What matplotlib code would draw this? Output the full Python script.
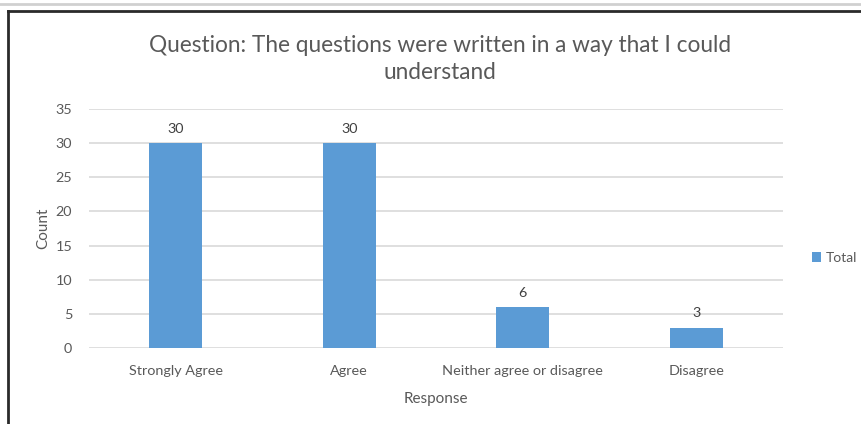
import matplotlib.pyplot as plt
from matplotlib.lines import Line2D

categories = ["Strongly Agree", "Agree", "Neither agree or disagree", "Disagree"]
totals = [30, 30, 6, 3]
y_ticks = [0, 5, 10, 15, 20, 25, 30, 35]

W, H = 862, 424
fig = plt.figure(figsize=(W / 100, H / 100), dpi=100)
fig.patch.set_facecolor("white")

font = ["Lato", "DejaVu Sans"]
text_color = "#595959"
bar_color = "#5B9BD5"
grid_color = "#D9D9D9"

# plot area in pixel coordinates
left, right, top, bottom = 89, 783, 109, 348
ax = fig.add_axes([left / W, 1 - bottom / H, (right - left) / W, (bottom - top) / H])

x = range(len(categories))
bars = ax.bar(x, totals, width=0.306, color=bar_color, zorder=3, label="Total")
ax.set_xlim(-0.5, len(categories) - 0.5)
ax.set_ylim(0, 35)
ax.set_yticks(y_ticks)
ax.yaxis.grid(True, color=grid_color, linewidth=1.2, zorder=0)
ax.tick_params(axis="both", length=0, labelsize=10.4, colors=text_color)
ax.tick_params(axis="y", pad=12)
ax.tick_params(axis="x", pad=12)
ax.set_xticks(list(x))
ax.set_xticklabels(categories, fontfamily=font)
for lbl in ax.get_yticklabels():
    lbl.set_fontfamily(font)
for s in ax.spines.values():
    s.set_visible(False)

for b, v in zip(bars, totals):
    ax.text(b.get_x() + b.get_width() / 2, v + 1.2, str(v), ha="center", va="bottom",
            fontsize=10.4, color="#404040", fontfamily=font)

ax.set_ylabel("Count", fontsize=11, color=text_color, fontfamily=font, labelpad=4)
ax.set_xlabel("Response", fontsize=11, color=text_color, fontfamily=font, labelpad=11)

fig.text(440 / W, 1 - 59 / H,
         "Question: The questions were written in a way that I could\nunderstand",
         ha="center", va="center", fontsize=16.3, color=text_color, fontfamily=font,
         linespacing=1.35)

leg = ax.legend(loc="center left", bbox_to_anchor=(806 / W, 1 - 258 / H),
                bbox_transform=fig.transFigure, frameon=False, handlelength=0.7,
                handleheight=0.7, handletextpad=0.3, borderaxespad=0,
                prop={"family": font, "size": 10})
for t in leg.get_texts():
    t.set_color(text_color)

# surrounding frame lines
fig.add_artist(Line2D([0, 1], [1 - 4 / H, 1 - 4 / H], transform=fig.transFigure,
                      color="#D0D0D0", linewidth=2))
fig.add_artist(Line2D([8 / W, 1], [1 - 11 / H, 1 - 11 / H], transform=fig.transFigure,
                      color="#2A2A2A", linewidth=2))
fig.add_artist(Line2D([8 / W, 8 / W], [0, 1 - 11 / H], transform=fig.transFigure,
                      color="#2A2A2A", linewidth=2))

fig.savefig("out.png", dpi=100, facecolor="white")
